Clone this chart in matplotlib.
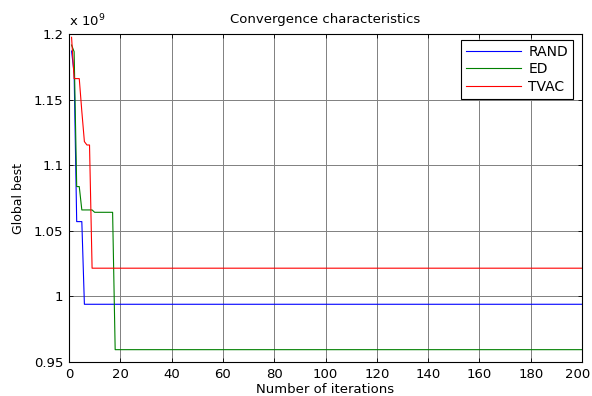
import matplotlib
matplotlib.use("Agg")
import matplotlib.pyplot as plt
import matplotlib.transforms as mtransforms
import numpy as np

# values in units of 1e9
iterations = list(range(1, 201))
rand_start = [1.187, 1.170, 1.057, 1.057, 1.057]
rand_final = 0.994
ed_start = [1.1916, 1.1865, 1.0837, 1.0837, 1.0659, 1.0659, 1.0659, 1.0659, 1.0659,
            1.0641, 1.0641, 1.0641, 1.0641, 1.0641, 1.0641, 1.0641, 1.0641]
ed_final = 0.9594
tvac_start = [1.1975, 1.166, 1.166, 1.166, 1.141, 1.118, 1.1154, 1.1154]
tvac_final = 1.0215

rand_vals = rand_start + [rand_final] * (200 - len(rand_start))
ed_vals = ed_start + [ed_final] * (200 - len(ed_start))
tvac_vals = tvac_start + [tvac_final] * (200 - len(tvac_start))

xticks = list(range(0, 201, 20))
yticks = [0.95, 1.0, 1.05, 1.1, 1.15, 1.2]
ytick_labels = ["0.95", "1", "1.05", "1.1", "1.15", "1.2"]

plt.rcParams['font.family'] = ['DejaVu Sans']

fig = plt.figure(figsize=(5.92, 3.96), dpi=100)
ax = fig.add_axes([69/592, 34/396, 513/592, 328/396])

ax.plot(iterations, rand_vals, color='#0000ff', lw=0.8, label='RAND')
ax.plot(iterations, ed_vals, color='#008000', lw=0.8, label='ED')
ax.plot(iterations, tvac_vals, color='#ff0000', lw=0.8, label='TVAC')

ax.set_xlim(0, 200)
ax.set_ylim(0.95, 1.2)
ax.set_xticks(xticks)
ax.set_yticks(yticks)
ax.set_yticklabels(ytick_labels)
ax.tick_params(direction='in', length=3, labelsize=9.5, top=True, right=True, width=0.6)
ax.tick_params(axis='y', pad=4)
ax.tick_params(axis='x', pad=4)
ax.grid(True, color='#808080', lw=0.7)
for s in ax.spines.values():
    s.set_linewidth(0.8)

# keep the last x tick label inside the figure
last = ax.get_xticklabels()[-1]
last.set_transform(last.get_transform() + mtransforms.ScaledTranslation(-4/100, 0, fig.dpi_scale_trans))

ax.set_title('Convergence characteristics', fontsize=9.5, pad=8)
ax.set_xlabel('Number of iterations', fontsize=9.5, labelpad=2)
ax.set_ylabel('Global best', fontsize=9, labelpad=6)
ax.text(0.0, 1.015, r'x 10$^{9}$', transform=ax.transAxes, fontsize=9.5, ha='left', va='bottom')

leg = ax.legend(loc='upper right', fontsize=10, fancybox=False, framealpha=1,
                edgecolor='black', handlelength=4.0, handletextpad=0.5,
                borderpad=0.35, labelspacing=0.25, borderaxespad=0,
                bbox_to_anchor=(0.9825, 0.9817))
leg.get_frame().set_linewidth(0.8)

fig.savefig('out.png', dpi=100)
